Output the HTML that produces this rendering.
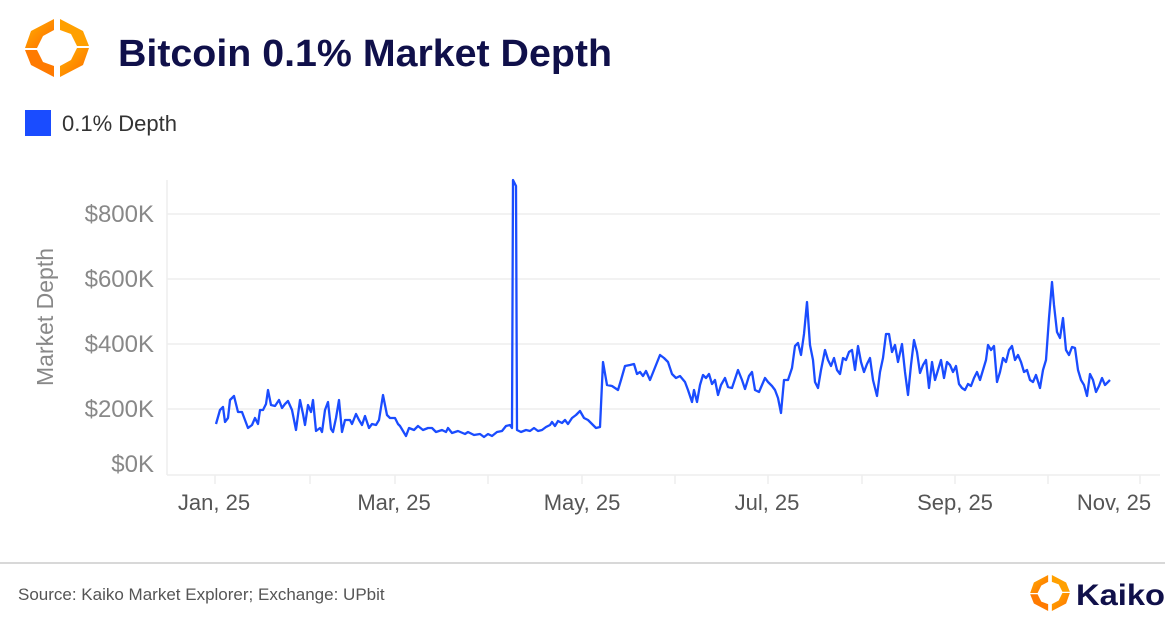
<!DOCTYPE html>
<html><head><meta charset="utf-8"><style>
body{margin:0;background:#fff;width:1176px;height:626px;overflow:hidden;font-family:"Liberation Sans",sans-serif}
</style></head><body>
<svg width="1176" height="626" xmlns="http://www.w3.org/2000/svg" font-family="Liberation Sans, sans-serif">
<defs><linearGradient id="g" x1="0" y1="0" x2="1" y2="1"><stop offset="0" stop-color="#ffb300"/><stop offset="1" stop-color="#ff6a00"/></linearGradient></defs>
<g transform="translate(57,48)">
<polygon points="-3,-29 -26,-17 -32,0 -20,0 -14,-12 -3,-18" fill="url(#g)"/>
<polygon points="-32,2 -20,2 -14,14 -3,18 -3,29 -26,17" fill="#ff7a00"/>
<polygon points="3,29 26,17 32,0 20,0 14,12 3,18" fill="url(#g)"/>
<polygon points="32,-2 20,-2 14,-14 3,-18 3,-29 26,-17" fill="#ffa000"/>
</g>
<text x="118" y="66" font-size="38" font-weight="bold" fill="#10104a" textLength="494" lengthAdjust="spacingAndGlyphs">Bitcoin 0.1% Market Depth</text>
<rect x="25" y="110" width="26" height="26" fill="#1a4cff"/>
<text x="62" y="131" font-size="22" fill="#333">0.1% Depth</text>
<g stroke="#eeeeee" stroke-width="1.5">
<line x1="167" y1="214" x2="1160" y2="214"/><line x1="167" y1="279" x2="1160" y2="279"/>
<line x1="167" y1="344" x2="1160" y2="344"/><line x1="167" y1="409" x2="1160" y2="409"/>
<line x1="167" y1="475" x2="1160" y2="475"/><line x1="167" y1="180" x2="167" y2="475"/>
<line x1="215" y1="475" x2="215" y2="484"/><line x1="310" y1="475" x2="310" y2="484"/><line x1="395" y1="475" x2="395" y2="484"/><line x1="488" y1="475" x2="488" y2="484"/><line x1="582" y1="475" x2="582" y2="484"/><line x1="675" y1="475" x2="675" y2="484"/><line x1="768" y1="475" x2="768" y2="484"/><line x1="862" y1="475" x2="862" y2="484"/><line x1="955" y1="475" x2="955" y2="484"/><line x1="1048" y1="475" x2="1048" y2="484"/><line x1="1140" y1="475" x2="1140" y2="484"/>
</g>
<g font-size="24" fill="#888" text-anchor="end">
<text x="154" y="222">$800K</text><text x="154" y="287">$600K</text><text x="154" y="352">$400K</text><text x="154" y="417">$200K</text><text x="154" y="472">$0K</text>
</g>
<text transform="translate(53,317) rotate(-90)" font-size="23" fill="#888" text-anchor="middle">Market Depth</text>
<g font-size="22" fill="#555" text-anchor="middle">
<text x="214" y="510">Jan, 25</text><text x="394" y="510">Mar, 25</text><text x="582" y="510">May, 25</text><text x="767" y="510">Jul, 25</text><text x="955" y="510">Sep, 25</text><text x="1114" y="510">Nov, 25</text>
</g>
<polyline fill="none" stroke="#1a4cff" stroke-width="2.3" stroke-linejoin="round" points="216,424 220,410 223,407 225,422 228,418 230,400 234,396 238,412 242,412 245,420 248,428 252,425 255,418 258,424 260,410 263,410 266,404 268,390 271,405 275,406 279,400 282,408 285,404 288,401 292,410 296,430 300,400 303,414 305,425 308,405 311,412 313,400 316,431 320,428 322,432 325,410 328,402 331,429 333,432 336,418 339,400 342,432 345,420 350,420 352,424 356,414 359,420 362,425 365,416 369,428 372,424 376,425 379,420 383,395 387,415 390,418 395,418 398,424 400,426 403,431 406,436 409,428 414,430 418,426 423,430 428,428 432,428 436,432 442,430 446,432 448,428 452,433 458,431 465,434 468,432 474,435 480,434 484,437 488,434 492,436 497,432 502,431 506,426 510,425 512,428 513,180 516,186 517,430 521,432 526,430 530,431 534,428 538,431 542,430 546,427 550,425 552,422 555,426 558,421 562,423 565,420 568,424 572,418 576,415 580,411 584,418 588,420 592,424 596,428 600,427 603,362 607,385 612,386 618,390 621,380 625,366 630,365 634,364 637,374 640,372 643,376 646,371 650,380 654,370 660,355 664,358 668,362 672,374 676,378 680,376 685,382 688,390 692,402 694,390 697,402 700,385 703,375 706,378 709,374 712,384 715,380 718,395 721,385 725,378 728,387 732,388 735,379 738,370 742,380 745,389 749,376 752,372 755,390 759,392 762,385 765,378 768,382 772,386 775,390 778,398 781,413 784,380 788,380 792,368 795,346 798,343 801,355 804,334 807,302 810,345 813,360 815,382 818,388 821,370 825,350 828,360 831,366 834,358 837,370 840,374 843,358 846,360 849,352 852,350 855,370 858,346 861,362 864,372 867,364 870,358 873,380 877,396 880,372 883,358 886,334 889,334 892,352 895,345 898,362 902,344 905,372 908,395 911,365 914,340 917,352 920,373 923,365 926,360 929,388 932,362 935,380 938,370 941,360 944,378 947,362 950,365 953,372 956,366 959,384 962,388 965,390 968,384 971,386 974,378 977,372 980,380 983,370 986,360 988,345 991,350 994,346 997,382 1000,372 1003,358 1006,362 1009,350 1012,346 1015,360 1018,355 1021,362 1024,372 1027,370 1030,380 1033,382 1036,375 1040,388 1043,370 1046,360 1049,318 1052,282 1054,305 1057,332 1060,338 1063,318 1066,350 1069,355 1072,347 1075,348 1078,370 1081,380 1084,385 1087,396 1090,374 1093,380 1096,392 1099,386 1102,378 1105,385 1108,382 1110,380"/>
<line x1="0" y1="563" x2="1165" y2="563" stroke="#ccc" stroke-width="1.5"/>
<text x="18" y="600" font-size="17" fill="#555">Source: Kaiko Market Explorer; Exchange: UPbit</text>
<g transform="translate(1050,593) scale(0.62)">
<polygon points="-3,-29 -26,-17 -32,0 -20,0 -14,-12 -3,-18" fill="url(#g)"/>
<polygon points="-32,2 -20,2 -14,14 -3,18 -3,29 -26,17" fill="#ff7a00"/>
<polygon points="3,29 26,17 32,0 20,0 14,12 3,18" fill="url(#g)"/>
<polygon points="32,-2 20,-2 14,-14 3,-18 3,-29 26,-17" fill="#ffa000"/>
</g>
<text x="1076" y="605" font-size="30" font-weight="bold" fill="#10104a" textLength="89" lengthAdjust="spacingAndGlyphs">Kaiko</text>
</svg>
</body></html>
